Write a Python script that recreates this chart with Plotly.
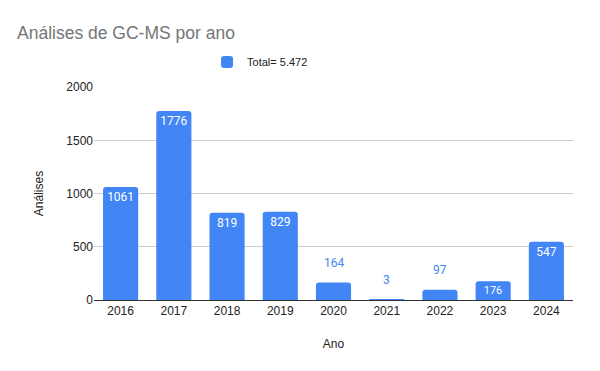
import plotly.graph_objects as go

years = ["2016", "2017", "2018", "2019", "2020", "2021", "2022", "2023", "2024"]
values = [1061, 1776, 819, 829, 164, 3, 97, 176, 547]
series_name = "Total= 5.472"
y_ticks = [0, 500, 1000, 1500, 2000]

BLUE = "#4285F4"
inside_min = 170

inside_text = [str(v) if v >= inside_min else "" for v in values]

fig = go.Figure()
fig.add_trace(go.Bar(
    x=years, y=values, name=series_name,
    marker=dict(color=BLUE, line=dict(width=0)),
    text=inside_text, textposition="inside", insidetextanchor="end",
    textangle=0,
    insidetextfont=dict(family="Roboto", size=12, color="white"),
    showlegend=True,
))
for i, v in enumerate(values):
    if v < inside_min:
        # category axis: annotation x given as the category's index
        fig.add_annotation(x=i, y=v, text=str(v), showarrow=False,
                           yshift=20, font=dict(family="Roboto", size=12, color=BLUE))

fig.update_layout(
    width=600, height=371,
    margin=dict(l=94, r=27, t=87, b=71, autoexpand=False),
    paper_bgcolor="white", plot_bgcolor="white",
    bargap=0.34, barcornerradius=3,
    title=dict(text="Análises de GC-MS por ano", x=17 / 600, xref="container", xanchor="left",
               y=1 - 33 / 371, yref="container", yanchor="middle",
               font=dict(family="Liberation Sans, Arial", size=17.5, color="#757575")),
    legend=dict(orientation="h", x=0.236, xanchor="left",
                y=1 - 62 / 371, yref="container", yanchor="middle",
                itemwidth=30,
                font=dict(family="Liberation Sans, Arial", size=11, color="#222222")),
    font=dict(family="Liberation Sans, Arial", size=12, color="#222222"),
    xaxis=dict(type="category", range=[-0.5, len(years) - 0.5], automargin=False,
               title=dict(text="Ano", standoff=22, font=dict(size=12, color="#222222")),
               showgrid=False, showline=True, linecolor="#333333", linewidth=1,
               ticks="", tickfont=dict(size=12, color="#222222")),
    yaxis=dict(title=dict(text="Análises", standoff=20, font=dict(size=12, color="#222222")),
               automargin=False,
               range=[0, 2002], tickvals=y_ticks, gridcolor="#cccccc", gridwidth=1,
               zeroline=False, showline=False, ticks="",
               tickfont=dict(size=12, color="#222222")),
)
fig.write_html("out.html", config={"displayModeBar": False},
               post_script="document.body.style.margin='0';document.body.style.padding='0';")
